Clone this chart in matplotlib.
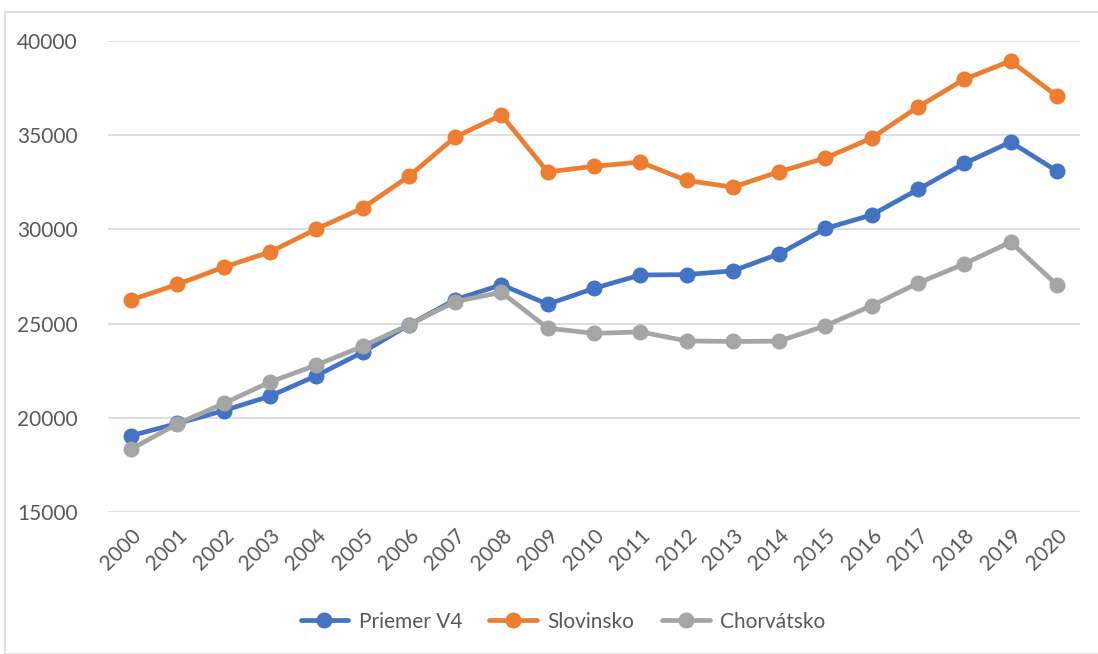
import matplotlib
matplotlib.use("Agg")
import matplotlib.pyplot as plt
from matplotlib.patches import Rectangle

plt.rcParams['font.family'] = ['Lato', 'DejaVu Sans']

# data
years = [str(y) for y in range(2000, 2021)]
priemer_v4 = [19050, 19700, 20380, 21150, 22230, 23480, 24930, 26270, 27060,
              26030, 26870, 27580, 27600, 27800, 28700, 30050, 30770, 32120,
              33500, 34640, 33100]
slovinsko = [26260, 27080, 28000, 28800, 30020, 31130, 32820, 34900, 36070,
             33050, 33350, 33570, 32600, 32240, 33060, 33790, 34850, 36500,
             37970, 38940, 37080]
chorvatsko = [18340, 19680, 20760, 21900, 22800, 23790, 24930, 26170, 26660,
              24760, 24480, 24560, 24080, 24050, 24070, 24890, 25950, 27150,
              28170, 29330, 27060]

series = [
    ("Priemer V4", priemer_v4, "#4472C4"),
    ("Slovinsko", slovinsko, "#ED7D31"),
    ("Chorvátsko", chorvatsko, "#A5A5A5"),
]

fig = plt.figure(figsize=(10.98, 6.54), dpi=100)
ax = fig.add_axes([108 / 1098, 1 - 512 / 654, (1080 - 108) / 1098, (512 - 41) / 654])

x = list(range(len(years)))
for name, vals, col in series:
    ax.plot(x, vals, color=col, lw=3.4, marker="o", markersize=10.5,
            solid_capstyle="round", label=name)

ax.set_xlim(-0.5, len(years) - 0.5)
ax.set_ylim(15000, 40000)
ax.set_yticks(range(15000, 40001, 5000))
ax.grid(axis="y", color="#D9D9D9", lw=1.2)
ax.set_axisbelow(True)
for s in ax.spines.values():
    s.set_visible(False)

ax.set_xticks(x)
ax.set_xticklabels(years, rotation=45, ha="right", rotation_mode="anchor")
ax.tick_params(axis="both", length=0, labelsize=15, labelcolor="#595959")
ax.tick_params(axis="y", pad=22)
ax.tick_params(axis="x", pad=10)

leg = ax.legend(loc="upper center", bbox_to_anchor=(0.468, -0.172), ncol=3,
                frameon=False, fontsize=15, handlelength=2.3,
                columnspacing=1.3, handletextpad=0.5)
for t in leg.get_texts():
    t.set_color("#595959")

# light frame around the whole chart
fig.patches.append(Rectangle((5 / 1098, 0), 1.0, 1 - 12 / 654,
                             transform=fig.transFigure, fill=False,
                             edgecolor="#D9D9D9", lw=1.2))

fig.savefig("out.png", dpi=100)
